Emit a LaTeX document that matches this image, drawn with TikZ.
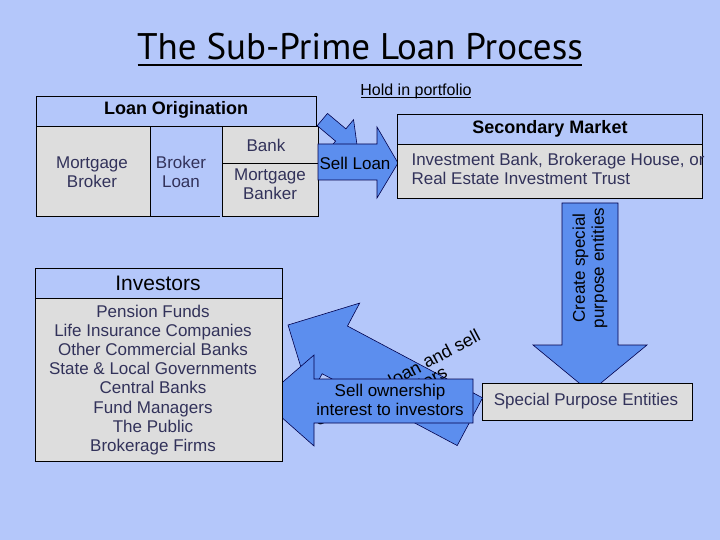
\documentclass[tikz,border=0pt]{standalone}
\usepackage{fontspec}
\setmainfont{Liberation Sans}
\newfontfamily\titlefont{PT Sans}
\begin{document}
\begin{tikzpicture}[x=1pt,y=-1pt,
  bx/.style={draw=black,line width=0.8pt},
  gray box/.style={bx,fill=boxgray},
  blue box/.style={bx,fill=bg},
  arr/.style={draw=black!70!blue,line width=0.6pt,fill=arrblue},
  gtxt/.style={text=txtc,font=\fontsize{17}{19}\selectfont,align=center},
  hd/.style={font=\bfseries\fontsize{18}{20}\selectfont}]
\definecolor{bg}{RGB}{180,199,250}
\definecolor{boxgray}{RGB}{221,221,221}
\definecolor{arrblue}{RGB}{92,142,238}
\definecolor{txtc}{RGB}{50,50,90}
\fill[bg] (0,0) rectangle (720,540);
\useasboundingbox (0,0) rectangle (720,540);
% title
\node (title) at (360,47) {\titlefont\fontsize{37}{40}\selectfont The Sub-Prime Loan Process};
\draw[line width=1.5pt] ([yshift=-5pt,xshift=4pt]title.base west) -- ([yshift=-5pt,xshift=-4pt]title.base east);
% loan origination
\draw[blue box] (36,96) rectangle (316,126);
\node[hd] (lo) at (176,110) {Loan Origination};
\draw[gray box] (36,126) rectangle (150,216);
\node[gtxt] (mb) at (92,172) {Mortgage\\Broker};
\draw[bx] (150,216) -- (220,216);
\node[gtxt] (bl) at (181,172) {Broker\\Loan};
\draw[gray box] (222,126) rectangle (318,216);
\draw[bx] (222,163) -- (318,163);
\node[gtxt] (bank) at (266,145) {Bank};
\node[gtxt] (mbk) at (270,184) {Mortgage\\Banker};
% hold in portfolio arrow
\begin{scope}[shift={(330,126)},rotate=-40]
\draw[arr] (-10,-8) -- (14,-8) -- (14,-20) -- (36,0) -- (14,20) -- (14,8) -- (-10,8) -- cycle;
\end{scope}
\node[font=\fontsize{16}{18}\selectfont] (hold) at (416,91) {Hold in portfolio};
\draw[line width=0.7pt] ([yshift=-2pt,xshift=4pt]hold.base west) -- ([yshift=-2pt,xshift=-4pt]hold.base east);
% sell loan arrow
\draw[arr] (318,144) -- (377,144) -- (377,127) -- (398,163) -- (377,198) -- (377,180) -- (318,180) -- cycle;
\node[font=\fontsize{17}{19}\selectfont] (sell) at (355,163) {Sell Loan};
% secondary market
\draw[blue box] (397,114) rectangle (702,144);
\node[hd] (sm) at (550,129) {Secondary Market};
\draw[gray box] (397,144) rectangle (702,198);
\node[gtxt,align=left,anchor=west] (ib) at (408,169) {Investment Bank, Brokerage House, or\\Real Estate Investment Trust};
% create SPE arrow
\draw[arr] (562,203) -- (618,203) -- (618,345) -- (647,345) -- (590,392) -- (533,345) -- (562,345) -- cycle;
\node[rotate=90,align=center,font=\fontsize{17}{19}\selectfont] (cse) at (590,268) {Create special\\purpose entities};
% SPE box
\draw[gray box] (482,383) rectangle (692,420);
\node[gtxt] (spe) at (586,401) {Special Purpose Entities};
% securitize arrow
\begin{scope}[shift={(288,325)},rotate=-28]
\draw[arr] (0,0) -- (53,-53) -- (53,-27) -- (206,-27) -- (206,27) -- (53,27) -- (53,53) -- cycle;
\node[rotate=28,align=center,font=\fontsize{18}{17}\selectfont] (sec) at (128,0) {Securitize loan and sell\\to investors};
\end{scope}
% sell ownership arrow
\draw[arr] (473,379) -- (314,379) -- (314,355) -- (262,400) -- (314,446) -- (314,423) -- (473,423) -- cycle;
\node[align=center,font=\fontsize{17}{19}\selectfont] (so) at (390,400) {Sell ownership\\interest to investors};
% investors
\draw[blue box] (35,268) rectangle (282,298);
\node[font=\fontsize{21}{23}\selectfont] (inv) at (158,283) {Investors};
\draw[gray box] (35,298) rectangle (282,461);
\node[gtxt,font=\fontsize{17}{19.2}\selectfont] (list) at (153,380) {Pension Funds\\Life Insurance Companies\\Other Commercial Banks\\State \& Local Governments\\Central Banks\\Fund Managers\\The Public\\Brokerage Firms};
\end{tikzpicture}
\end{document}
